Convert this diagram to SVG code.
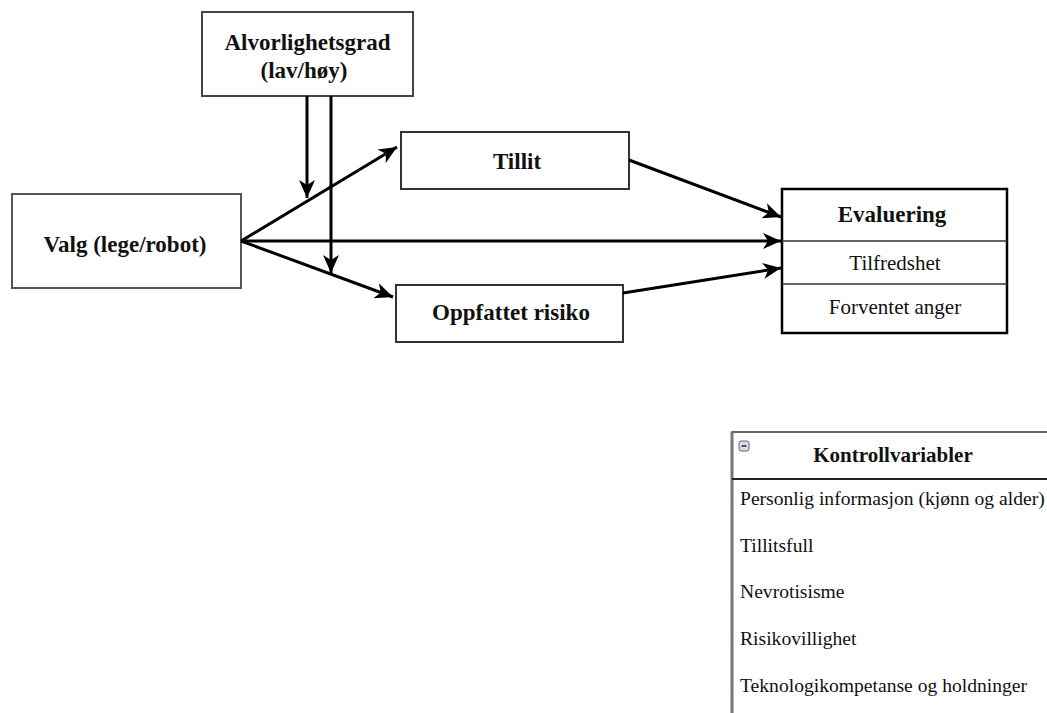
<svg xmlns="http://www.w3.org/2000/svg" width="1047" height="713" viewBox="0 0 1047 713">
  <defs>
    <marker id="ah" viewBox="0 0 18 16" refX="18" refY="8" markerWidth="18" markerHeight="16" markerUnits="userSpaceOnUse" orient="auto">
      <path d="M0,0 L18,8 L0,16 L5,8 Z" fill="#000"/>
    </marker>
  </defs>
  <style>
    .box { fill: #fff; stroke: #333; stroke-width: 2; }
    .lbl { font-family: "Liberation Serif", "Times New Roman", serif; font-weight: bold; font-size: 23px; fill: #111; text-anchor: middle; }
    .item { font-family: "Liberation Serif", "Times New Roman", serif; font-size: 21px; fill: #111; }
    .ctl { font-family: "Liberation Serif", "Times New Roman", serif; font-size: 19.6px; fill: #111; }
    .conn { stroke: #000; stroke-width: 3; fill: none; marker-end: url(#ah); }
  </style>
  <rect width="1047" height="713" fill="#fff"/>

  <g id="alvorlighetsgrad">
    <rect class="box" x="202" y="12" width="211" height="84" style="stroke:#444"/>
    <text class="lbl" x="307.5" y="50">Alvorlighetsgrad</text>
    <text class="lbl" x="304" y="78">(lav/høy)</text>
  </g>

  <g id="valg">
    <rect class="box" x="12" y="194" width="229" height="94" style="stroke:#555"/>
    <text class="lbl" x="125" y="252">Valg (lege/robot)</text>
  </g>

  <g id="tillit">
    <rect class="box" x="401" y="132" width="228" height="57"/>
    <text class="lbl" x="517" y="169">Tillit</text>
  </g>

  <g id="oppfattet-risiko">
    <rect class="box" x="396" y="285" width="227" height="57"/>
    <text class="lbl" x="511" y="320">Oppfattet risiko</text>
  </g>

  <g id="evaluering">
    <rect x="782" y="189" width="225" height="144" fill="#fff" stroke="#000" stroke-width="2.5"/>
    <line x1="782" y1="241" x2="1007" y2="241" stroke="#333" stroke-width="1.5"/>
    <line x1="782" y1="284" x2="1007" y2="284" stroke="#333" stroke-width="1.5"/>
    <text class="lbl" x="892" y="222">Evaluering</text>
    <text class="item" x="895" y="270" text-anchor="middle">Tilfredshet</text>
    <text class="item" x="895" y="314" text-anchor="middle">Forventet anger</text>
  </g>

  <g id="kontrollvariabler">
    <rect x="732" y="432" width="340" height="300" fill="#fff" stroke="#333" stroke-width="1.5"/>
    <line x1="732" y1="432" x2="732" y2="713" stroke="#777" stroke-width="3"/>
    <line x1="732" y1="479" x2="1047" y2="479" stroke="#222" stroke-width="2"/>
    <rect x="739" y="441" width="10" height="10" rx="2" fill="#d8dde3" stroke="#667"/>
    <line x1="741.5" y1="446" x2="746.5" y2="446" stroke="#223" stroke-width="1.5"/>
    <text class="lbl" x="893" y="462" style="font-size:21px">Kontrollvariabler</text>
    <text class="ctl" x="740" y="505">Personlig informasjon (kjønn og alder)</text>
    <text class="ctl" x="740" y="552">Tillitsfull</text>
    <text class="ctl" x="740" y="598">Nevrotisisme</text>
    <text class="ctl" x="740" y="645">Risikovillighet</text>
    <text class="ctl" x="740" y="692">Teknologikompetanse og holdninger</text>
  </g>

  <g id="connectors">
    <line class="conn" x1="307" y1="96" x2="307" y2="198"/>
    <line class="conn" x1="331" y1="96" x2="331" y2="273"/>
    <line class="conn" x1="241" y1="241" x2="397" y2="147"/>
    <line class="conn" x1="241" y1="241" x2="781" y2="241"/>
    <line class="conn" x1="241" y1="241" x2="393" y2="297"/>
    <line class="conn" x1="629" y1="160" x2="781" y2="217"/>
    <line class="conn" x1="623" y1="293" x2="781" y2="268"/>
  </g>
</svg>
